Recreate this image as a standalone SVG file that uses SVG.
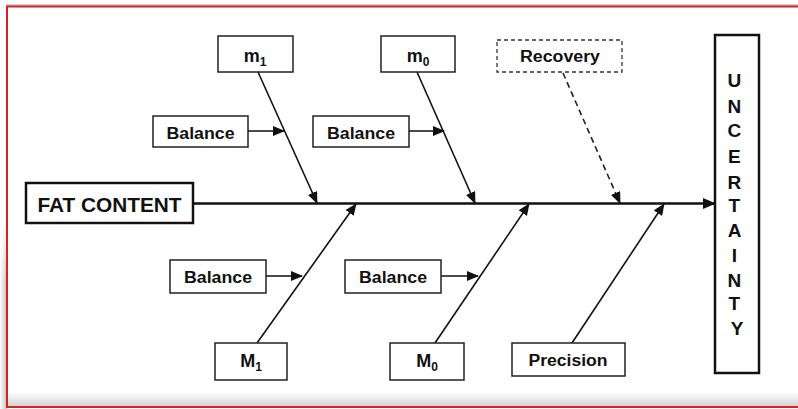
<svg xmlns="http://www.w3.org/2000/svg" width="798" height="409" viewBox="0 0 798 409">
  <style>
    .box { fill: #ffffff; stroke: #222222; stroke-width: 1.5; }
    .bold-box { fill: #ffffff; stroke: #111111; stroke-width: 2.5; }
    .dash-box { fill: #ffffff; stroke: #333333; stroke-width: 1.3; stroke-dasharray: 4 3; }
    .lbl { font-family: "Liberation Sans", Arial, sans-serif; font-weight: bold; fill: #111111; text-anchor: middle; }
    .edge { stroke: #111111; stroke-width: 1.6; fill: none; marker-end: url(#head); }
    .edge-dash { stroke: #222222; stroke-width: 1.6; fill: none; stroke-dasharray: 6 4; marker-end: url(#head); }
    .spine { stroke: #111111; stroke-width: 2.5; fill: none; marker-end: url(#head-big); }
  </style>
  <defs>
    <marker id="head" markerUnits="userSpaceOnUse" markerWidth="12" markerHeight="10" refX="11" refY="5" orient="auto">
      <path d="M0,0 L12,5 L0,10 Z" fill="#111111"/>
    </marker>
    <marker id="head-big" markerUnits="userSpaceOnUse" markerWidth="13" markerHeight="11" refX="12" refY="5.5" orient="auto">
      <path d="M0,0 L13,5.5 L0,11 Z" fill="#111111"/>
    </marker>
    <linearGradient id="left-shade" x1="0" y1="0" x2="1" y2="0">
      <stop offset="0" stop-color="#ffffff"/>
      <stop offset="1" stop-color="#c4c4c4"/>
    </linearGradient>
    <linearGradient id="left-fade" x1="0" y1="0" x2="0" y2="1">
      <stop offset="0" stop-color="#ffffff" stop-opacity="1"/>
      <stop offset="1" stop-color="#ffffff" stop-opacity="0"/>
    </linearGradient>
    <linearGradient id="bottom-shade" x1="0" y1="0" x2="0" y2="1">
      <stop offset="0" stop-color="#ffffff"/>
      <stop offset="1" stop-color="#d6d6d6"/>
    </linearGradient>
  </defs>

  <!-- page background and frame -->
  <rect x="0" y="0" width="798" height="409" fill="#ffffff"/>
  <rect x="0" y="220" width="7" height="189" fill="url(#left-shade)"/>
  <rect x="0" y="220" width="7" height="60" fill="url(#left-fade)"/>
  <rect x="8" y="392" width="790" height="14" fill="url(#bottom-shade)"/>
  <line x1="6" y1="5" x2="798" y2="5" stroke="#9a9a9a" stroke-width="1"/>
  <rect x="7" y="6.5" width="800" height="400.5" fill="none" stroke="#d82222" stroke-width="2"/>

  <!-- connectors -->
  <g id="connectors">
    <line class="spine" x1="193" y1="203.5" x2="715" y2="203.5"/>
    <line class="edge" x1="258" y1="72" x2="317" y2="203"/>
    <line class="edge" x1="248" y1="131" x2="284" y2="131"/>
    <line class="edge" x1="417" y1="72" x2="475" y2="203"/>
    <line class="edge" x1="409" y1="131" x2="444" y2="131"/>
    <line class="edge-dash" x1="563" y1="73" x2="620" y2="203"/>
    <line class="edge" x1="257" y1="343" x2="356" y2="204"/>
    <line class="edge" x1="266" y1="276" x2="302" y2="276"/>
    <line class="edge" x1="435" y1="343" x2="529" y2="204"/>
    <line class="edge" x1="441" y1="276" x2="478" y2="276"/>
    <line class="edge" x1="572" y1="343" x2="664" y2="204"/>
  </g>

  <g id="fat-content">
    <rect class="bold-box" x="26" y="183" width="167" height="40"/>
    <text class="lbl" x="109.5" y="212" font-size="20" textLength="144" lengthAdjust="spacingAndGlyphs">FAT CONTENT</text>
  </g>

  <g id="m1">
    <rect class="box" x="218" y="36" width="75" height="36"/>
    <text class="lbl" x="255" y="62" font-size="18">m<tspan font-size="12" dy="4">1</tspan></text>
  </g>

  <g id="balance-m1">
    <rect class="box" x="153" y="116" width="95" height="31"/>
    <text class="lbl" x="200.5" y="138.5" font-size="16" textLength="68" lengthAdjust="spacingAndGlyphs">Balance</text>
  </g>

  <g id="m0">
    <rect class="box" x="381" y="36" width="74" height="36"/>
    <text class="lbl" x="418" y="62" font-size="18">m<tspan font-size="12" dy="4">0</tspan></text>
  </g>

  <g id="balance-m0">
    <rect class="box" x="313" y="116" width="96" height="31"/>
    <text class="lbl" x="361" y="138.5" font-size="16" textLength="68" lengthAdjust="spacingAndGlyphs">Balance</text>
  </g>

  <g id="recovery">
    <rect class="dash-box" x="497" y="40" width="125" height="32"/>
    <text class="lbl" x="560" y="62" font-size="16" textLength="80" lengthAdjust="spacingAndGlyphs">Recovery</text>
  </g>

  <g id="balance-M1">
    <rect class="box" x="170" y="260" width="96" height="33"/>
    <text class="lbl" x="218" y="283" font-size="16" textLength="68" lengthAdjust="spacingAndGlyphs">Balance</text>
  </g>

  <g id="M1">
    <rect class="box" x="215" y="343" width="72" height="37"/>
    <text class="lbl" x="251" y="367" font-size="18">M<tspan font-size="12" dy="4">1</tspan></text>
  </g>

  <g id="balance-M0">
    <rect class="box" x="345" y="260" width="96" height="33"/>
    <text class="lbl" x="393" y="283" font-size="16" textLength="68" lengthAdjust="spacingAndGlyphs">Balance</text>
  </g>

  <g id="M0">
    <rect class="box" x="390" y="343" width="74" height="37"/>
    <text class="lbl" x="427" y="367" font-size="18">M<tspan font-size="12" dy="4">0</tspan></text>
  </g>

  <g id="precision">
    <rect class="box" x="512" y="343" width="113" height="33"/>
    <text class="lbl" x="568" y="366" font-size="16" textLength="79" lengthAdjust="spacingAndGlyphs">Precision</text>
  </g>

  <g id="uncertainty">
    <rect class="bold-box" x="715" y="35" width="44" height="338"/>
    <text class="lbl" font-size="19">
      <tspan x="737" y="87">U</tspan>
      <tspan x="737" y="113">N</tspan>
      <tspan x="737" y="137">C</tspan>
      <tspan x="737" y="163">E</tspan>
      <tspan x="737" y="189">R</tspan>
      <tspan x="737" y="212">T</tspan>
      <tspan x="737" y="237">A</tspan>
      <tspan x="737" y="262">I</tspan>
      <tspan x="737" y="287">N</tspan>
      <tspan x="737" y="310">T</tspan>
      <tspan x="737" y="335">Y</tspan>
    </text>
  </g>
</svg>
